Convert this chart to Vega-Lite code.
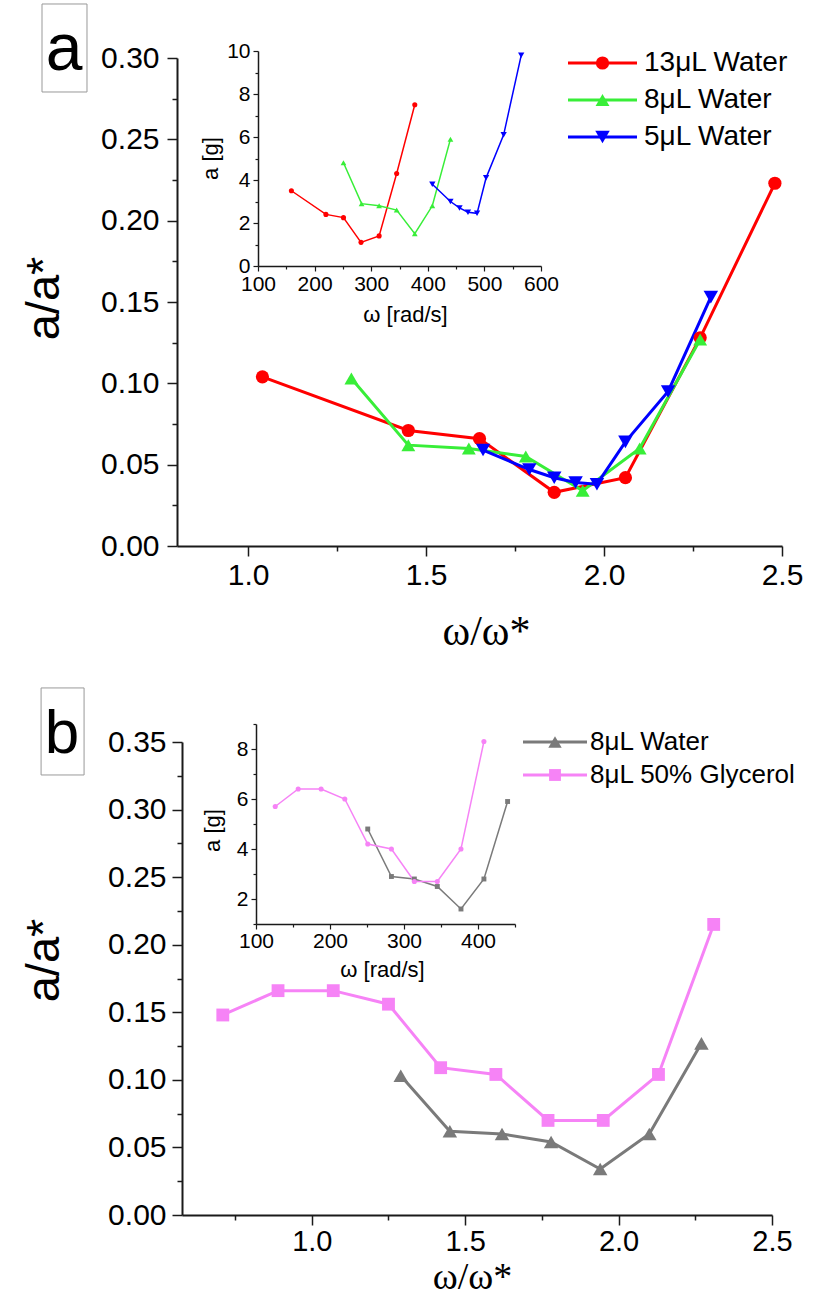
{
  "$schema": "https://vega.github.io/schema/vega-lite/v6.json",
  "width": 817,
  "height": 1295,
  "autosize": {"type": "none"},
  "padding": 0,
  "background": "white",
  "config": {
    "view": {"stroke": null},
    "axis": {"grid": false, "labelFont": "Liberation Sans", "titleFont": "Liberation Sans", "titleFontWeight": "normal", "domainColor": "#1a1a1a", "tickColor": "#1a1a1a", "labelColor": "#000000", "titleColor": "#000000", "labelFlush": false}
  },
  "datasets": {
    "mainA": [
      {"s": "13μL Water", "x": 1.04, "y": 0.104}, {"s": "13μL Water", "x": 1.45, "y": 0.071}, {"s": "13μL Water", "x": 1.65, "y": 0.066}, {"s": "13μL Water", "x": 1.86, "y": 0.033}, {"s": "13μL Water", "x": 2.06, "y": 0.042}, {"s": "13μL Water", "x": 2.27, "y": 0.128}, {"s": "13μL Water", "x": 2.48, "y": 0.223},
      {"s": "8μL Water", "x": 1.29, "y": 0.103}, {"s": "8μL Water", "x": 1.45, "y": 0.062}, {"s": "8μL Water", "x": 1.62, "y": 0.060}, {"s": "8μL Water", "x": 1.78, "y": 0.055}, {"s": "8μL Water", "x": 1.94, "y": 0.034}, {"s": "8μL Water", "x": 2.10, "y": 0.060}, {"s": "8μL Water", "x": 2.27, "y": 0.127},
      {"s": "5μL Water", "x": 1.66, "y": 0.059}, {"s": "5μL Water", "x": 1.79, "y": 0.047}, {"s": "5μL Water", "x": 1.86, "y": 0.042}, {"s": "5μL Water", "x": 1.92, "y": 0.039}, {"s": "5μL Water", "x": 1.98, "y": 0.038}, {"s": "5μL Water", "x": 2.06, "y": 0.064}, {"s": "5μL Water", "x": 2.18, "y": 0.095}, {"s": "5μL Water", "x": 2.30, "y": 0.153}
    ],
    "insetA": [
      {"s": "13μL Water", "w": 159, "a": 3.5}, {"s": "13μL Water", "w": 220, "a": 2.4}, {"s": "13μL Water", "w": 251, "a": 2.25}, {"s": "13μL Water", "w": 282, "a": 1.1}, {"s": "13μL Water", "w": 314, "a": 1.4}, {"s": "13μL Water", "w": 345, "a": 4.3}, {"s": "13μL Water", "w": 377, "a": 7.5},
      {"s": "8μL Water", "w": 251, "a": 4.8}, {"s": "8μL Water", "w": 283, "a": 2.9}, {"s": "8μL Water", "w": 314, "a": 2.8}, {"s": "8μL Water", "w": 345, "a": 2.6}, {"s": "8μL Water", "w": 377, "a": 1.5}, {"s": "8μL Water", "w": 408, "a": 2.8}, {"s": "8μL Water", "w": 440, "a": 5.9},
      {"s": "5μL Water", "w": 408, "a": 3.8}, {"s": "5μL Water", "w": 440, "a": 3.0}, {"s": "5μL Water", "w": 456, "a": 2.7}, {"s": "5μL Water", "w": 471, "a": 2.5}, {"s": "5μL Water", "w": 487, "a": 2.45}, {"s": "5μL Water", "w": 503, "a": 4.1}, {"s": "5μL Water", "w": 534, "a": 6.1}, {"s": "5μL Water", "w": 565, "a": 9.8}
    ],
    "mainB": [
      {"s": "8μL Water", "x": 1.29, "y": 0.103}, {"s": "8μL Water", "x": 1.45, "y": 0.062}, {"s": "8μL Water", "x": 1.62, "y": 0.060}, {"s": "8μL Water", "x": 1.78, "y": 0.054}, {"s": "8μL Water", "x": 1.94, "y": 0.034}, {"s": "8μL Water", "x": 2.10, "y": 0.060}, {"s": "8μL Water", "x": 2.27, "y": 0.127},
      {"s": "8μL 50% Glycerol", "x": 0.71, "y": 0.148}, {"s": "8μL 50% Glycerol", "x": 0.89, "y": 0.166}, {"s": "8μL 50% Glycerol", "x": 1.07, "y": 0.166}, {"s": "8μL 50% Glycerol", "x": 1.25, "y": 0.156}, {"s": "8μL 50% Glycerol", "x": 1.42, "y": 0.109}, {"s": "8μL 50% Glycerol", "x": 1.60, "y": 0.104}, {"s": "8μL 50% Glycerol", "x": 1.77, "y": 0.070}, {"s": "8μL 50% Glycerol", "x": 1.95, "y": 0.070}, {"s": "8μL 50% Glycerol", "x": 2.13, "y": 0.104}, {"s": "8μL 50% Glycerol", "x": 2.31, "y": 0.215}
    ],
    "insetB": [
      {"s": "8μL Water", "w": 251, "a": 4.8}, {"s": "8μL Water", "w": 283, "a": 2.9}, {"s": "8μL Water", "w": 314, "a": 2.8}, {"s": "8μL Water", "w": 345, "a": 2.5}, {"s": "8μL Water", "w": 377, "a": 1.6}, {"s": "8μL Water", "w": 408, "a": 2.8}, {"s": "8μL Water", "w": 440, "a": 5.9},
      {"s": "8μL 50% Glycerol", "w": 126, "a": 5.7}, {"s": "8μL 50% Glycerol", "w": 157, "a": 6.4}, {"s": "8μL 50% Glycerol", "w": 188, "a": 6.4}, {"s": "8μL 50% Glycerol", "w": 220, "a": 6.0}, {"s": "8μL 50% Glycerol", "w": 251, "a": 4.2}, {"s": "8μL 50% Glycerol", "w": 283, "a": 4.0}, {"s": "8μL 50% Glycerol", "w": 314, "a": 2.7}, {"s": "8μL 50% Glycerol", "w": 345, "a": 2.7}, {"s": "8μL 50% Glycerol", "w": 377, "a": 4.0}, {"s": "8μL 50% Glycerol", "w": 408, "a": 8.3}
    ],
    "legA": [{"s": "13μL Water"}, {"s": "8μL Water"}, {"s": "5μL Water"}],
    "legB": [{"s": "8μL Water"}, {"s": "8μL 50% Glycerol"}]
  },
  "layer": [
    {
      "data": {"name": "mainA"},
      "encoding": {
        "x": {"field": "x", "type": "quantitative", "scale": {"domain": [0.8, 2.5], "range": [177, 782], "nice": false, "zero": false},
          "axis": {"orient": "bottom", "offset": -749, "values": [1, 1.25, 1.5, 1.75, 2, 2.25, 2.5], "format": ".1f",
            "labelExpr": "abs(datum.value*2-round(datum.value*2))<0.001 ? datum.label : ''",
            "tickDash": {"condition": {"test": "abs(datum.value*2-round(datum.value*2))>0.001", "value": [5, 30]}, "value": []},
            "tickSize": 10, "tickWidth": 1.5, "domainWidth": 2, "labelFontSize": 30, "labelPadding": 4,
            "title": "ω/ω*", "titleFont": "Liberation Serif", "titleFontSize": 42, "titleX": 486, "titleY": 98, "titleAlign": "center", "titleBaseline": "alphabetic"}},
        "y": {"field": "y", "type": "quantitative", "scale": {"domain": [0, 0.3], "range": [546, 58], "nice": false, "zero": false},
          "axis": {"orient": "left", "offset": -177, "values": [0, 0.025, 0.05, 0.075, 0.1, 0.125, 0.15, 0.175, 0.2, 0.225, 0.25, 0.275, 0.3], "format": ".2f",
            "labelExpr": "abs(datum.value*20-round(datum.value*20))<0.001 ? datum.label : ''",
            "tickDash": {"condition": {"test": "abs(datum.value*20-round(datum.value*20))>0.001", "value": [5, 30]}, "value": []},
            "tickSize": 10, "tickWidth": 1.5, "domainWidth": 2, "labelFontSize": 30, "labelPadding": 8,
            "title": "a/a*", "titleFontSize": 47, "titleAngle": -90, "titleX": -133, "titleY": 298, "titleAlign": "center", "titleBaseline": "middle"}},
        "color": {"field": "s", "type": "nominal", "scale": {"domain": ["13μL Water", "8μL Water", "5μL Water"], "range": ["#ff0000", "#38ee38", "#0000ff"]}, "legend": null}
      },
      "layer": [
        {"mark": {"type": "line", "strokeWidth": 3}},
        {"mark": {"type": "point", "filled": true, "opacity": 1},
          "encoding": {
            "shape": {"field": "s", "type": "nominal", "scale": {"domain": ["13μL Water", "8μL Water", "5μL Water"], "range": ["circle", "triangle-up", "triangle-down"]}, "legend": null},
            "size": {"field": "s", "type": "ordinal", "scale": {"domain": ["13μL Water", "8μL Water", "5μL Water"], "range": [175, 210, 210]}, "legend": null}}}
      ]
    },
    {
      "data": {"values": [{"t": "a"}]},
      "layer": [
        {"mark": {"type": "rect", "filled": false, "strokeWidth": 1, "color": "#999999"},
          "encoding": {
            "x": {"datum": 0.4207, "type": "quantitative", "scale": {"domain": [0.8, 2.5], "range": [177, 782], "nice": false, "zero": false}, "axis": null},
            "x2": {"datum": 0.5471},
            "y": {"datum": 0.3332, "type": "quantitative", "scale": {"domain": [0, 0.3], "range": [546, 58], "nice": false, "zero": false}, "axis": null},
            "y2": {"datum": 0.2791}}},
        {"mark": {"type": "text", "fontSize": 66, "font": "Liberation Sans", "align": "center", "baseline": "alphabetic", "color": "#000000"},
          "encoding": {
            "x": {"datum": 0.4825, "type": "quantitative", "scale": {"domain": [0.8, 2.5], "range": [177, 782], "nice": false, "zero": false}, "axis": null},
            "y": {"datum": 0.2926, "type": "quantitative", "scale": {"domain": [0, 0.3], "range": [546, 58], "nice": false, "zero": false}, "axis": null},
            "text": {"field": "t"}}}
      ]
    },
    {
      "data": {"name": "insetA"},
      "encoding": {
        "x": {"field": "w", "type": "quantitative", "scale": {"domain": [100, 600], "range": [258, 541], "nice": false, "zero": false},
          "axis": {"orient": "bottom", "offset": -1029, "values": [100, 150, 200, 250, 300, 350, 400, 450, 500, 550, 600],
            "labelExpr": "datum.value % 100 == 0 ? datum.label : ''",
            "tickDash": {"condition": {"test": "datum.value % 100 != 0", "value": [3, 30]}, "value": []},
            "tickSize": 5, "tickWidth": 1.2, "domainWidth": 1.5, "labelFontSize": 21, "labelPadding": 2,
            "title": "ω  [rad/s]", "titleFontSize": 22, "titleX": 405, "titleY": 55, "titleAlign": "center", "titleBaseline": "alphabetic"}},
        "y": {"field": "a", "type": "quantitative", "scale": {"domain": [0, 10], "range": [266, 51], "nice": false, "zero": false},
          "axis": {"orient": "left", "offset": -258, "values": [0, 1, 2, 3, 4, 5, 6, 7, 8, 9, 10],
            "labelExpr": "datum.value % 2 == 0 ? datum.label : ''",
            "tickDash": {"condition": {"test": "datum.value % 2 != 0", "value": [3, 30]}, "value": []},
            "tickSize": 5, "tickWidth": 1.2, "domainWidth": 1.5, "labelFontSize": 21, "labelPadding": 3,
            "title": "a [g]", "titleFontSize": 22, "titleAngle": -90, "titleX": -48, "titleY": 158, "titleAlign": "center", "titleBaseline": "middle"}},
        "color": {"field": "s", "type": "nominal", "scale": {"domain": ["13μL Water", "8μL Water", "5μL Water"], "range": ["#ff0000", "#38ee38", "#0000ff"]}, "legend": null}
      },
      "layer": [
        {"mark": {"type": "line", "strokeWidth": 1.5}},
        {"mark": {"type": "point", "filled": true, "opacity": 1},
          "encoding": {
            "shape": {"field": "s", "type": "nominal", "scale": {"domain": ["13μL Water", "8μL Water", "5μL Water"], "range": ["circle", "triangle-up", "triangle-down"]}, "legend": null},
            "size": {"field": "s", "type": "ordinal", "scale": {"domain": ["13μL Water", "8μL Water", "5μL Water"], "range": [26, 40, 40]}, "legend": null}}}
      ]
    },
    {
      "data": {"name": "legA"},
      "encoding": {
        "y": {"field": "s", "type": "nominal", "scale": {"type": "point", "domain": ["13μL Water", "8μL Water", "5μL Water"], "range": [63, 137], "padding": 0}, "axis": null},
        "color": {"field": "s", "type": "nominal", "scale": {"domain": ["13μL Water", "8μL Water", "5μL Water"], "range": ["#ff0000", "#38ee38", "#0000ff"]}, "legend": null}
      },
      "layer": [
        {"mark": {"type": "rule", "strokeWidth": 3},
          "encoding": {"x": {"datum": 0, "type": "quantitative", "scale": {"domain": [0, 1], "range": [568, 637], "nice": false, "zero": false}, "axis": null}, "x2": {"datum": 1}}},
        {"mark": {"type": "point", "filled": true, "opacity": 1},
          "encoding": {"x": {"datum": 0.5, "type": "quantitative", "scale": {"domain": [0, 1], "range": [568, 637], "nice": false, "zero": false}, "axis": null},
            "shape": {"field": "s", "type": "nominal", "scale": {"domain": ["13μL Water", "8μL Water", "5μL Water"], "range": ["circle", "triangle-up", "triangle-down"]}, "legend": null},
            "size": {"field": "s", "type": "ordinal", "scale": {"domain": ["13μL Water", "8μL Water", "5μL Water"], "range": [175, 210, 210]}, "legend": null}}},
        {"mark": {"type": "text", "align": "left", "baseline": "middle", "fontSize": 28, "font": "Liberation Sans", "dx": 7},
          "encoding": {"x": {"datum": 1, "type": "quantitative", "scale": {"domain": [0, 1], "range": [568, 637], "nice": false, "zero": false}, "axis": null},
            "text": {"field": "s"}, "color": {"value": "#000000"}}}
      ]
    },
    {
      "data": {"name": "mainB"},
      "encoding": {
        "x": {"field": "x", "type": "quantitative", "scale": {"domain": [0.577, 2.5], "range": [182, 772], "nice": false, "zero": false},
          "axis": {"orient": "bottom", "offset": -80, "values": [0.75, 1, 1.25, 1.5, 1.75, 2, 2.25, 2.5], "format": ".1f",
            "labelExpr": "abs(datum.value*2-round(datum.value*2))<0.001 ? datum.label : ''",
            "tickDash": {"condition": {"test": "abs(datum.value*2-round(datum.value*2))>0.001", "value": [5, 30]}, "value": []},
            "tickSize": 10, "tickWidth": 1.5, "domainWidth": 2, "labelFontSize": 29, "labelPadding": 2,
            "title": "ω/ω*", "titleFont": "Liberation Serif", "titleFontSize": 38, "titleX": 472, "titleY": 73, "titleAlign": "center", "titleBaseline": "alphabetic"}},
        "y": {"field": "y", "type": "quantitative", "scale": {"domain": [0, 0.35], "range": [1215, 742], "nice": false, "zero": false},
          "axis": {"orient": "left", "offset": -182, "values": [0, 0.025, 0.05, 0.075, 0.1, 0.125, 0.15, 0.175, 0.2, 0.225, 0.25, 0.275, 0.3, 0.325, 0.35], "format": ".2f",
            "labelExpr": "abs(datum.value*20-round(datum.value*20))<0.001 ? datum.label : ''",
            "tickDash": {"condition": {"test": "abs(datum.value*20-round(datum.value*20))>0.001", "value": [5, 30]}, "value": []},
            "tickSize": 10, "tickWidth": 1.5, "domainWidth": 2, "labelFontSize": 30, "labelPadding": 6,
            "title": "a/a*", "titleFontSize": 47, "titleAngle": -90, "titleX": -138, "titleY": 960, "titleAlign": "center", "titleBaseline": "middle"}},
        "color": {"field": "s", "type": "nominal", "scale": {"domain": ["8μL Water", "8μL 50% Glycerol"], "range": ["#7a7a7a", "#f683f6"]}, "legend": null}
      },
      "layer": [
        {"mark": {"type": "line", "strokeWidth": 3}},
        {"mark": {"type": "point", "filled": true, "opacity": 1},
          "encoding": {
            "shape": {"field": "s", "type": "nominal", "scale": {"domain": ["8μL Water", "8μL 50% Glycerol"], "range": ["triangle-up", "square"]}, "legend": null},
            "size": {"field": "s", "type": "ordinal", "scale": {"domain": ["8μL Water", "8μL 50% Glycerol"], "range": [210, 165]}, "legend": null}}}
      ]
    },
    {
      "data": {"values": [{"t": "b"}]},
      "layer": [
        {"mark": {"type": "rect", "filled": false, "strokeWidth": 1, "color": "#999999"},
          "encoding": {
            "x": {"datum": 0.1177, "type": "quantitative", "scale": {"domain": [0.577, 2.5], "range": [182, 772], "nice": false, "zero": false}, "axis": null},
            "x2": {"datum": 0.2578},
            "y": {"datum": 0.39, "type": "quantitative", "scale": {"domain": [0, 0.35], "range": [1215, 742], "nice": false, "zero": false}, "axis": null},
            "y2": {"datum": 0.3256}}},
        {"mark": {"type": "text", "fontSize": 62, "font": "Liberation Sans", "align": "center", "baseline": "alphabetic", "color": "#000000"},
          "encoding": {
            "x": {"datum": 0.1861, "type": "quantitative", "scale": {"domain": [0.577, 2.5], "range": [182, 772], "nice": false, "zero": false}, "axis": null},
            "y": {"datum": 0.3419, "type": "quantitative", "scale": {"domain": [0, 0.35], "range": [1215, 742], "nice": false, "zero": false}, "axis": null},
            "text": {"field": "t"}}}
      ]
    },
    {
      "data": {"name": "insetB"},
      "encoding": {
        "x": {"field": "w", "type": "quantitative", "scale": {"domain": [100, 450], "range": [256, 515], "nice": false, "zero": false},
          "axis": {"orient": "bottom", "offset": -371, "values": [100, 150, 200, 250, 300, 350, 400, 450],
            "labelExpr": "datum.value % 100 == 0 ? datum.label : ''",
            "tickDash": {"condition": {"test": "datum.value % 100 != 0", "value": [3, 30]}, "value": []},
            "tickSize": 5, "tickWidth": 1.2, "domainWidth": 1.5, "labelFontSize": 21, "labelPadding": 1,
            "title": "ω  [rad/s]", "titleFontSize": 22, "titleX": 382, "titleY": 52, "titleAlign": "center", "titleBaseline": "alphabetic"}},
        "y": {"field": "a", "type": "quantitative", "scale": {"domain": [1, 9], "range": [924, 724], "nice": false, "zero": false},
          "axis": {"orient": "left", "offset": -256, "values": [1, 2, 3, 4, 5, 6, 7, 8, 9],
            "labelExpr": "datum.value % 2 == 0 ? datum.label : ''",
            "tickDash": {"condition": {"test": "datum.value % 2 != 0", "value": [3, 30]}, "value": []},
            "tickSize": 5, "tickWidth": 1.2, "domainWidth": 1.5, "labelFontSize": 21, "labelPadding": 3,
            "title": "a [g]", "titleFontSize": 22, "titleAngle": -90, "titleX": -44, "titleY": 830, "titleAlign": "center", "titleBaseline": "middle"}},
        "color": {"field": "s", "type": "nominal", "scale": {"domain": ["8μL Water", "8μL 50% Glycerol"], "range": ["#7a7a7a", "#f683f6"]}, "legend": null}
      },
      "layer": [
        {"mark": {"type": "line", "strokeWidth": 1.5}},
        {"mark": {"type": "point", "filled": true, "opacity": 1},
          "encoding": {
            "shape": {"field": "s", "type": "nominal", "scale": {"domain": ["8μL Water", "8μL 50% Glycerol"], "range": ["square", "circle"]}, "legend": null},
            "size": {"field": "s", "type": "ordinal", "scale": {"domain": ["8μL Water", "8μL 50% Glycerol"], "range": [24, 26]}, "legend": null}}}
      ]
    },
    {
      "data": {"name": "legB"},
      "encoding": {
        "y": {"field": "s", "type": "nominal", "scale": {"type": "point", "domain": ["8μL Water", "8μL 50% Glycerol"], "range": [742, 775], "padding": 0}, "axis": null},
        "color": {"field": "s", "type": "nominal", "scale": {"domain": ["8μL Water", "8μL 50% Glycerol"], "range": ["#7a7a7a", "#f683f6"]}, "legend": null}
      },
      "layer": [
        {"mark": {"type": "rule", "strokeWidth": 3},
          "encoding": {"x": {"datum": 0, "type": "quantitative", "scale": {"domain": [0, 1], "range": [523, 587], "nice": false, "zero": false}, "axis": null}, "x2": {"datum": 1}}},
        {"mark": {"type": "point", "filled": true, "opacity": 1},
          "encoding": {"x": {"datum": 0.5, "type": "quantitative", "scale": {"domain": [0, 1], "range": [523, 587], "nice": false, "zero": false}, "axis": null},
            "shape": {"field": "s", "type": "nominal", "scale": {"domain": ["8μL Water", "8μL 50% Glycerol"], "range": ["triangle-up", "square"]}, "legend": null},
            "size": {"field": "s", "type": "ordinal", "scale": {"domain": ["8μL Water", "8μL 50% Glycerol"], "range": [180, 140]}, "legend": null}}},
        {"mark": {"type": "text", "align": "left", "baseline": "middle", "fontSize": 26, "font": "Liberation Sans", "dx": 3},
          "encoding": {"x": {"datum": 1, "type": "quantitative", "scale": {"domain": [0, 1], "range": [523, 587], "nice": false, "zero": false}, "axis": null},
            "text": {"field": "s"}, "color": {"value": "#000000"}}}
      ]
    }
  ],
  "resolve": {"scale": {"x": "independent", "y": "independent", "color": "independent", "shape": "independent", "size": "independent"}}
}
